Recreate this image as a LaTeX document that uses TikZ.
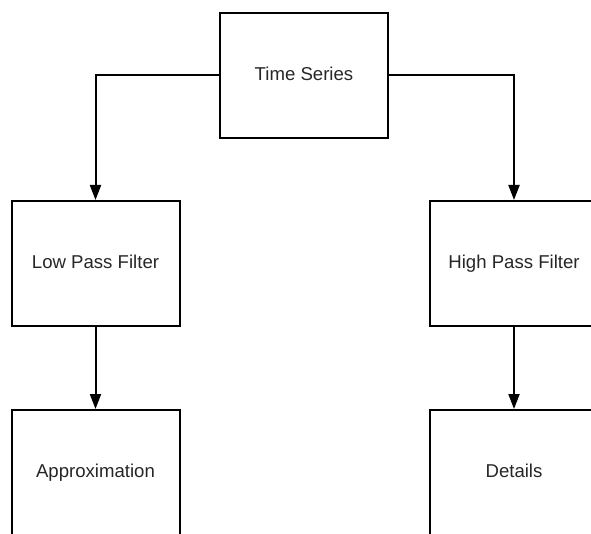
\documentclass[tikz,border=0pt]{standalone}
\usepackage{fontspec}
\setmainfont{Liberation Sans}
\usetikzlibrary{arrows.meta,positioning}
\tikzset{filterbox/.style={draw,line width=2pt,minimum width=168pt,minimum height=125pt,inner sep=0pt,
    text=black!85,text height=13.5pt,text depth=4pt},
  flow/.style={-{Triangle[length=15pt,width=11pt]},line width=2pt}}

\begin{document}
\begin{tikzpicture}[x=1pt,y=1pt,font=\fontsize{18.6}{22}\selectfont]
\useasboundingbox (0,0) rectangle (591,-534);
\clip (0,0) rectangle (591,-534);
\node[filterbox] (ts) at (304,-75.5) {Time Series};
\node[filterbox] (lpf) at (95.5,-263.5) {Low Pass Filter};
\node[filterbox] (hpf) at (514,-263.5) {High Pass Filter};
\node[filterbox] (approx) at (95.5,-472.5) {Approximation};
\node[filterbox] (details) at (514,-472.5) {Details};
\draw[flow] (ts.west) -| (lpf.north);
\draw[flow] (ts.east) -| (hpf.north);
\draw[flow] (lpf) -- (approx);
\draw[flow] (hpf) -- (details);
\end{tikzpicture}
\end{document}
